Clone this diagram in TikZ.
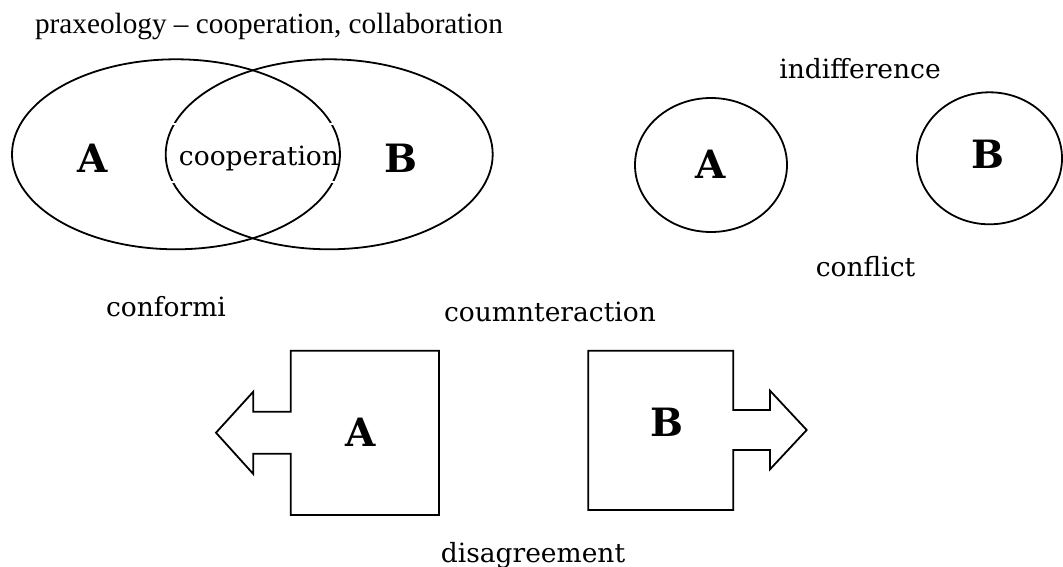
\documentclass[tikz,border=0pt]{standalone}
\usepackage{fontspec}
\setmainfont{DejaVu Serif}
\newfontfamily\timesfont{Liberation Serif}
\begin{document}
\begin{tikzpicture}[x=1pt,y=-1pt,
  outline/.style={line width=1.8pt, draw=black, line join=miter},
  caption/.style={inner sep=0pt, anchor=base, font=\fontsize{26.5}{30}\selectfont},
  letter/.style={inner sep=0pt, anchor=base, font=\fontsize{39}{42}\selectfont\bfseries},
]
\useasboundingbox[fill=white] (0,0) rectangle (1063,567);

% title
\node[inner sep=0pt, anchor=base, font=\timesfont\fontsize{29.25}{32}\selectfont] (title) at (269,33.3)
  {praxeology \textendash{} cooperation, collaboration};

% overlapping sets: cooperation
\draw[outline] (176,154.3) ellipse [x radius=164, y radius=95];
\draw[outline] (329.2,154.3) ellipse [x radius=163.5, y radius=95];
\node[letter] (coopA) at (92.5,172.7) {A};
\node[letter] (coopB) at (401,172.7) {B};
\node[caption, draw=white, line width=2pt, minimum width=200pt,
      text height=41pt, text depth=17pt] (coop) at (259,165) {cooperation};

% separate sets: indifference / conflict
\node[caption] (indiff) at (860,78.3) {indifference};
\draw[outline] (711,165) ellipse [x radius=76, y radius=67];
\draw[outline] (989.5,158.3) ellipse [x radius=72.5, y radius=66];
\node[letter] (indA) at (710.5,178.3) {A};
\node[letter] (indB) at (987.5,168.3) {B};
\node[caption] (conflict) at (865.5,276) {conflict};

% opposed blocks: counteraction / disagreement
\node[caption] (conformi) at (166,316.7) {conformi};
\node[caption] (counter) at (550,321.7) {coumnteraction};

\draw[outline] (439,350.7) -- (290.7,350.7) -- (290.7,411.7) -- (253.3,411.7)
  -- (253.3,391.7) -- (216,432.7) -- (253.3,474) -- (253.3,453.7)
  -- (290.7,453.7) -- (290.7,515) -- (439,515) -- cycle;
\draw[outline] (588.3,350.7) -- (733.3,350.7) -- (733.3,410) -- (770,410)
  -- (770,390.7) -- (806.7,430) -- (770,469.3) -- (770,450)
  -- (733.3,450) -- (733.3,510) -- (588.3,510) -- cycle;
\node[letter] (blockA) at (361,446) {A};
\node[letter] (blockB) at (666.7,436.7) {B};

\node[caption] (disagree) at (533,562) {disagreement};
\end{tikzpicture}
\end{document}
